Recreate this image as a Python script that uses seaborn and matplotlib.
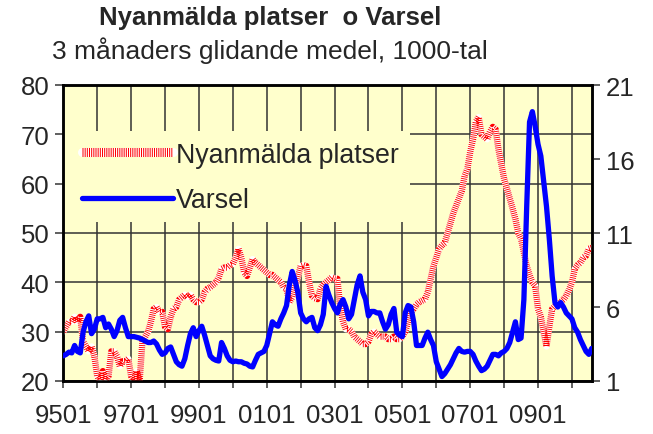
import numpy as np
import pandas as pd
import matplotlib
matplotlib.use("Agg")
import matplotlib.pyplot as plt
import seaborn as sns
from matplotlib.lines import Line2D
from matplotlib.patches import Rectangle
from matplotlib.legend_handler import HandlerTuple

# ---- data (monthly, 9501 .. 1008) ----
platser = [
    30, 31, 32, 32, 33, 32, 33, 28, 27, 26, 27, 25,
    21, 20, 22, 20, 21, 26, 26, 25, 23, 24, 24, 24.5,
    21, 20, 22, 20, 28, 29, 30, 32, 34.6, 35, 34, 34,
    31, 30.5, 33, 34.6, 35, 36.5, 37, 37.5, 37, 37.5, 36.5, 36,
    36, 36.5, 38, 38.7, 39, 39.5, 40, 41, 42.7, 43, 43, 43.5,
    43.7, 45, 46.8, 45, 42, 41.3, 43, 44.7, 44, 43.5, 43, 42.5,
    42, 41.5, 41.5, 41, 40.5, 40, 39, 38.7, 36, 37, 39, 41,
    43.3, 43.5, 43.3, 40, 37.3, 36.8, 36.6, 38.7, 39.5, 40, 40.5, 41,
    40.8, 40.7, 35, 32, 30.5, 30.5, 30, 29, 28.5, 28, 27.5, 27.5,
    28, 29.5, 30, 29.5, 29, 29, 29, 28.5, 28.5, 29, 28.5, 28.5,
    29, 30, 32, 34, 34.6, 35.5, 36, 36.3, 36.6, 38, 40.7, 43.3,
    45, 46.8, 47.5, 48, 50, 52, 54, 55.5, 57, 58.5, 61.5, 63,
    66.4, 69, 72.5, 73.5, 70, 69.5, 69, 70.5, 71.5, 71, 67, 64,
    61, 59, 57, 55, 52.8, 50, 48.8, 46, 43.3, 41.5, 40, 39.3,
    34.6, 33, 30, 27, 31, 34.6, 35.2, 35.5, 36, 36.5, 37.3, 38.5,
    40, 42.7, 43.5, 44, 45, 45.4, 46.8, 47,
]
varsel = [
    2.7, 2.8, 2.95, 2.9, 3.4, 3.0, 2.9, 4.3, 5.0, 5.4, 4.2, 4.5,
    5.2, 5.2, 5.3, 4.6, 4.85, 4.5, 4.0, 4.4, 5.1, 5.3, 4.6, 4.0,
    4.0, 4.0, 3.95, 3.9, 3.8, 3.7, 3.6, 3.6, 3.7, 3.5, 3.1, 2.8,
    2.9, 3.2, 3.3, 2.8, 2.3, 2.1, 2.0, 2.5, 3.4, 4.2, 4.6, 4.0,
    4.4, 4.7, 4.1, 3.4, 2.7, 2.5, 2.4, 2.35, 3.6, 3.2, 2.7, 2.4,
    2.3, 2.35, 2.3, 2.3, 2.2, 2.15, 2.0, 1.95, 2.4, 2.8, 2.9, 3.0,
    3.4, 4.2, 5.0, 4.8, 4.7, 5.2, 5.6, 6.1, 7.5, 8.4, 7.8, 7.0,
    5.6, 5.2, 5.0, 5.2, 5.3, 4.6, 4.4, 4.8, 5.5, 7.4, 6.8, 6.3,
    5.9, 5.6, 6.2, 6.5, 6.0, 5.2, 5.5, 6.5, 7.5, 8.1, 7.0, 6.5,
    5.4, 5.7, 5.7, 5.6, 5.6, 5.0, 4.5, 4.8, 5.5, 5.9, 4.3, 4.1,
    4.0, 5.6, 6.1, 6.0, 5.0, 3.4, 3.4, 3.4, 3.9, 4.3, 3.8, 3.4,
    2.3, 1.8, 1.3, 1.5, 1.8, 2.1, 2.5, 2.9, 3.2, 3.0, 2.95, 3.0,
    3.0, 2.8, 2.35, 2.0, 1.7, 1.8, 2.0, 2.4, 2.8, 2.8, 2.7, 2.9,
    3.0, 3.2, 3.6, 4.3, 5.0, 3.8, 3.9, 6.5, 12.8, 18.5, 19.2, 18.2,
    17.0, 16.2, 14.5, 12.8, 10.6, 8.1, 6.3, 6.0, 6.3, 6.0, 5.6, 5.4,
    5.2, 4.6, 4.3, 3.8, 3.4, 3.0, 2.8, 3.2,
]
year_labels = ["9501", "9701", "9901", "0101", "0301", "0501", "0701", "0901"]
left_ticks = [20, 30, 40, 50, 60, 70, 80]
right_ticks = [1, 6, 11, 16, 21]
title = "Nyanmälda platser  o Varsel"
subtitle = "3 månaders glidande medel, 1000-tal"
label_p = "Nyanmälda platser"
label_v = "Varsel"

n = len(platser)
df = pd.DataFrame({"t": np.arange(n), "platser": platser, "varsel": varsel})

sns.set_style("white")
plt.rcParams["font.family"] = ["Liberation Sans", "DejaVu Sans"]

fig = plt.figure(figsize=(6.53, 4.35), dpi=100)
ax1 = fig.add_axes([63.3 / 653, 1 - 382 / 435, (591.7 - 63.3) / 653, (382 - 86) / 435])
bg = "#FFFFCC"
ax1.set_facecolor(bg)
ax1.set_axisbelow(True)

# pink textured line: white base + fine red dashes
sns.lineplot(data=df, x="t", y="platser", ax=ax1, color="white", linewidth=4.6, zorder=3)
sns.lineplot(data=df, x="t", y="platser", ax=ax1, color="#ff0000", linewidth=4.6,
             linestyle=(0, (0.14, 0.18)), zorder=4)

ax1.set_xlim(0, n - 1)
ax1.set_ylim(20, 80)
ax1.set_yticks(left_ticks)
ax1.set_xticks(np.arange(0, n, 12), minor=True)
ax1.set_xticks(np.arange(0, 12 * 2 * len(year_labels), 24))
ax1.set_xticklabels(year_labels)
ax1.grid(True, which="both", axis="x", color="#333333", linewidth=1.1)
ax1.grid(True, which="major", axis="y", color="#333333", linewidth=1.1)
ax1.set_xlabel("")
ax1.set_ylabel("")
ax1.tick_params(axis="x", which="both", direction="out", length=5, width=1.2,
                color="#444444", labelsize=18.5, pad=11, bottom=True)
ax1.tick_params(axis="y", direction="out", length=6, width=1.2, color="#444444",
                labelsize=18.5, pad=4, left=True)

# legend area background hides grid
ax1.add_patch(Rectangle((0, 0.537), 0.656, 0.308, transform=ax1.transAxes,
                        facecolor=bg, edgecolor="none", zorder=1.5))

ax2 = ax1.twinx()
sns.lineplot(data=df, x="t", y="varsel", ax=ax2, color="#0000ff", linewidth=3.8, zorder=5)
ax2.set_ylim(1, 21)
ax2.set_yticks(right_ticks)
ax2.set_ylabel("")
ax2.tick_params(axis="y", direction="out", length=6, width=1.2, color="#444444",
                labelsize=18.5, pad=4, right=True)
ax2.set_xlim(0, n - 1)

for ax in (ax1, ax2):
    for s in ax.spines.values():
        s.set_color("black")
        s.set_linewidth(1.8)
        s.set_visible(True)

h_p = (Line2D([], [], color="white", linewidth=6.5),
       Line2D([], [], color="#ff0000", linewidth=6.5, linestyle=(0, (0.11, 0.13))))
h_v = Line2D([], [], color="#0000ff", linewidth=3.8)
leg = ax2.legend([h_p, h_v], [label_p, label_v], handler_map={tuple: HandlerTuple(ndivide=1, pad=0)},
                 loc="upper left", bbox_to_anchor=(0.015, 0.845), frameon=False,
                 fontsize=19.3, handlelength=3.4, handletextpad=0.1, labelspacing=0.72,
                 borderaxespad=0)

fig.text(0.413, 0.958, title, ha="center", va="center", fontsize=18.5, fontweight="bold")
fig.text(0.413, 0.884, subtitle, ha="center", va="center", fontsize=19)

fig.savefig("out.png", dpi=100, facecolor="white")
